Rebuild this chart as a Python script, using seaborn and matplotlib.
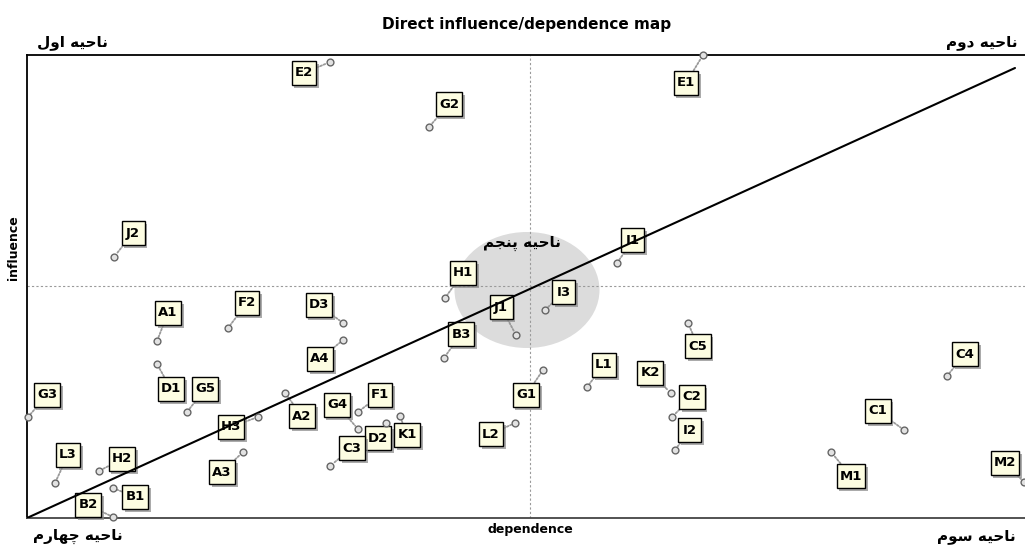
import matplotlib
matplotlib.use("Agg")
import matplotlib.pyplot as plt
import matplotlib.patheffects as pe
from matplotlib.patches import Ellipse
from matplotlib.path import Path
import seaborn as sns
import pandas as pd

# ---------------- data ----------------
variables = ["E2", "G2", "E1", "J2", "A1", "D1", "F2", "D3", "A4", "G5",
             "G3", "L3", "H2", "B2", "B1", "H3", "A2", "A3", "G4", "F1",
             "D2", "K1", "C3", "L2", "G1", "H1", "J1", "B3", "I3", "I1",
             "L1", "K2", "C5", "C2", "I2", "C4", "C1", "M1", "M2"]
dependence = [303, 402, 676, 87, 130, 130, 201, 316, 316, 160,
              1, 28, 72, 86, 86, 231, 258, 216, 331, 331,
              359, 373, 303, 488, 516, 418, 489, 417, 518, 590,
              560, 644, 661, 645, 648, 920, 877, 804, 997]
influence = [456, 391, 463, 261, 177, 154, 190, 195, 178, 106,
             101, 35, 47, 1, 30, 101, 125, 66, 89, 106,
             95, 102, 52, 95, 148, 220, 183, 160, 208, 255,
             131, 125, 195, 101, 68, 142, 88, 66, 36]

# reference lines
mean_dependence = 503
mean_influence = 232
diag_dependence = [0, 988]
diag_influence = [0, 450]
zone5_center = (500, 228)

title = "Direct influence/dependence map"
xlabel = "dependence"
ylabel = "influence"
zone_labels = ["ناحیه اول", "ناحیه دوم", "ناحیه سوم", "ناحیه چهارم", "ناحیه پنجم"]

# label offsets (pixels) – layout only
label_offsets = [(-26, -11), (20, 23), (-17, -28), (19, 24), (11, 28), (14, -25), (19, 25), (-24, 18), (-23, -19), (18, 23),
                 (19, 22), (13, 28), (23, 12), (-25, 12), (22, -9), (-27, -10), (17, -23), (-21, -20), (-21, 24), (22, 17),
                 (-8, -15), (7, -19), (22, 18), (-24, -11), (-17, -25), (18, 25), (-15, 28), (17, 24), (19, 18), (16, 23),
                 (17, 22), (-21, 20), (10, -23), (20, 20), (15, 20), (18, 22), (-26, 19), (20, -24), (-19, 19)]

# ------------- simple Persian shaping -------------
DUAL = {
    "ن": ("\uFEE5", "\uFEE6", "\uFEE7", "\uFEE8"),
    "ح": ("\uFEA1", "\uFEA2", "\uFEA3", "\uFEA4"),
    "ی": ("\uFBFC", "\uFBFD", "\uFBFE", "\uFBFF"),
    "ه": ("\uFEE9", "\uFEEA", "\uFEEB", "\uFEEC"),
    "ل": ("\uFEDD", "\uFEDE", "\uFEDF", "\uFEE0"),
    "م": ("\uFEE1", "\uFEE2", "\uFEE3", "\uFEE4"),
    "س": ("\uFEB1", "\uFEB2", "\uFEB3", "\uFEB4"),
    "چ": ("\uFB7A", "\uFB7B", "\uFB7C", "\uFB7D"),
    "پ": ("\uFB56", "\uFB57", "\uFB58", "\uFB59"),
    "ج": ("\uFE9D", "\uFE9E", "\uFE9F", "\uFEA0"),
}
RIGHT = {
    "ا": ("\uFE8D", "\uFE8E"),
    "و": ("\uFEED", "\uFEEE"),
    "د": ("\uFEA9", "\uFEAA"),
    "ر": ("\uFEAD", "\uFEAE"),
}


def shape(text):
    out = []
    n = len(text)
    for i, ch in enumerate(text):
        if ch not in DUAL and ch not in RIGHT:
            out.append(ch)
            continue
        prev = text[i - 1] if i > 0 else " "
        nxt = text[i + 1] if i < n - 1 else " "
        jp = prev in DUAL
        jn = ch in DUAL and (nxt in DUAL or nxt in RIGHT)
        if ch in RIGHT:
            out.append(RIGHT[ch][1] if jp else RIGHT[ch][0])
        else:
            f = DUAL[ch]
            if jp and jn:
                out.append(f[3])
            elif jp:
                out.append(f[1])
            elif jn:
                out.append(f[2])
            else:
                out.append(f[0])
    return "".join(out)[::-1]


def label_box(x0, y0, width, height, mutation_size):
    # fixed-size square-ish label box (pixels)
    cx, cy = x0 + width / 2, y0 + height / 2
    w = max(width + 0.5 * mutation_size, 23)
    h = 24
    l, r, b, t = cx - w / 2, cx + w / 2, cy - h / 2, cy + h / 2
    return Path([(l, b), (r, b), (r, t), (l, t), (l, b)], closed=True)


# ---------------- plot ----------------
sns.set_theme(style="white")
plt.rcParams["font.family"] = ["DejaVu Sans"]
plt.rcParams["text.color"] = "black"

W, H = 1025, 548
fig = plt.figure(figsize=(W / 100, H / 100), dpi=100)
ax = fig.add_axes([27 / W, 30 / H, 998 / W, 463 / H])

df = pd.DataFrame({"variable": variables, "dependence": dependence, "influence": influence})

ax.add_patch(Ellipse(zone5_center, 145, 116, facecolor="#dcdcdc", edgecolor="none", zorder=0))
ax.axvline(mean_dependence, color="#9a9a9a", lw=0.8, ls=(0, (2, 2)), zorder=1)
ax.axhline(mean_influence, color="#9a9a9a", lw=0.8, ls=(0, (2, 2)), zorder=1)
sns.lineplot(x=diag_dependence, y=diag_influence, color="black", lw=1.5, ax=ax, zorder=4)

sns.scatterplot(data=df, x="dependence", y="influence", s=24, color="#e2e2e2",
                edgecolor="#666666", linewidth=1, ax=ax, zorder=5, clip_on=False)

for name, x, y, (dx, dy) in zip(variables, dependence, influence, label_offsets):
    t = ax.annotate(name, xy=(x, y), xytext=(dx, dy), textcoords="offset pixels",
                    ha="center", va="center", fontsize=9.5, fontweight="bold", color="black",
                    bbox=dict(boxstyle=label_box, fc="#fdfde2", ec="black", lw=1),
                    arrowprops=dict(arrowstyle="-", color="#9a9a9a", lw=1.3, ls=(0, (1, 1)),
                                    shrinkA=0, shrinkB=3),
                    zorder=3, annotation_clip=False)
    t.get_bbox_patch().set_path_effects([
        pe.withSimplePatchShadow(offset=(2, -2), shadow_rgbFace="#888888", alpha=0.7)])

ax.text(495, 275, shape(zone_labels[4]), ha="center", va="center", fontsize=11,
        fontweight="bold", zorder=6)

ax.set_xlim(0, 998)
ax.set_ylim(0, 463)
ax.set_xticks([])
ax.set_yticks([])
ax.set_xlabel("")
ax.set_ylabel("")
for s in ["top", "left", "bottom"]:
    ax.spines[s].set_visible(True)
    ax.spines[s].set_color("black")
    ax.spines[s].set_linewidth(1.3)
ax.spines["bottom"].set_color("#444444")
ax.spines["right"].set_visible(False)

fig.text(527 / W, 1 - 24 / H, title, ha="center", va="center", fontsize=11, fontweight="bold")
fig.text(530 / W, 1 - 530 / H, xlabel, ha="center", va="center", fontsize=9, fontweight="bold")
fig.text(14 / W, 1 - 248 / H, ylabel, ha="center", va="center", fontsize=9, fontweight="bold",
         rotation=90)

fig.text(72 / W, 1 - 42 / H, shape(zone_labels[0]), ha="center", va="center", fontsize=11, fontweight="bold")
fig.text(982 / W, 1 - 42 / H, shape(zone_labels[1]), ha="center", va="center", fontsize=11, fontweight="bold")
fig.text(976 / W, 1 - 536 / H, shape(zone_labels[2]), ha="center", va="center", fontsize=11, fontweight="bold")
fig.text(78 / W, 1 - 536 / H, shape(zone_labels[3]), ha="center", va="center", fontsize=11, fontweight="bold")

fig.savefig("out.png", dpi=100, facecolor="white")
